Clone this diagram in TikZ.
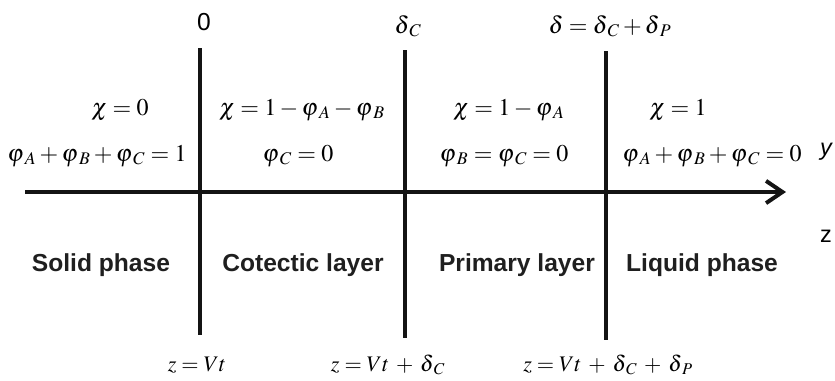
\documentclass[tikz,border=0pt]{standalone}
\usepackage{amsmath}
\usepackage{mathptmx}
\usepackage{fontspec}
\setsansfont{Liberation Sans}
\usepackage{tikz}
\usetikzlibrary{positioning,arrows.meta}
\newcommand{\sub}[2]{#1_{\mkern3mu #2}}
\newcommand{\wplus}{\mskip 3mu+\mskip 3mu}

\begin{document}
\begin{tikzpicture}[x=0.03cm, y=-0.03cm, font=\fontsize{20.5}{24}\selectfont,
  wall/.style={line width=3.4pt, black!92},
  eqn/.style={inner sep=0pt, anchor=base},
  phase/.style={inner sep=0pt, anchor=base, font=\fontsize{21}{24}\selectfont\sffamily\bfseries, text=black!88},
  front/.style={inner sep=0pt, anchor=base, font=\fontsize{19}{22}\selectfont}]
  \useasboundingbox (0,0) rectangle (835,380);
  \def\colS{200} \def\colC{405} \def\colP{606}
  % interfaces
  \foreach \x/\t/\b/\n in {\colS/48/335/s, \colC/50/338/c, \colP/51/340/p} {
    \coordinate (\n top) at (\x,\t);
    \coordinate (\n bot) at (\x,\b);
    \draw[wall] (\n top) -- (\n bot);
  }
  % axis
  \coordinate (ax0) at (25,192);
  \coordinate (ax1) at (786,192);
  \draw[wall, -{Straight Barb[length=14pt, width=19pt, line width=3.4pt]}] (ax0) -- (ax1);
  \node[eqn, font=\fontsize{20}{24}\selectfont\sffamily\itshape] (lbly) at (826,155) {y};
  \node[eqn, font=\fontsize{20}{24}\selectfont\sffamily] (lblz) at (826,242) {z};
  % positions
  \node[eqn, font=\fontsize{21}{24}\selectfont\sffamily] (pos0) at (204,30) {0};
  \node[eqn] (posc) at (408,33) {$\sub{\delta}{C}$};
  \node[eqn] (posd) at (610,33) {$\delta=\sub{\delta}{C}+\sub{\delta}{P}$};
  % conditions
  \node[eqn] (chis) at (120,115) {$\chi=0$};
  \node[eqn] (phis) at (97,161) {$\sub{\varphi}{A}+\sub{\varphi}{B}+\sub{\varphi}{C}=1$};
  \node[eqn] (chic) at (302,115) {$\chi=1-\sub{\varphi}{A}-\sub{\varphi}{B}$};
  \node[eqn] (phic) at (298,161) {$\sub{\varphi}{C}=0$};
  \node[eqn] (chip) at (509,115) {$\chi=1-\sub{\varphi}{A}$};
  \node[eqn] (phip) at (504,161) {$\sub{\varphi}{B}=\sub{\varphi}{C}=0$};
  \node[eqn] (chil) at (678,115) {$\chi=1$};
  \node[eqn] (phil) at (712,161) {$\sub{\varphi}{A}+\sub{\varphi}{B}+\sub{\varphi}{C}=0$};
  % regions
  \foreach \x/\n/\t in {101/solid/Solid phase, 303/cotec/Cotectic layer, 517/prim/Primary layer, 702/liq/Liquid phase}
    \node[phase] (\n) at (\x,271) {\t};
  % fronts
  \node[front] (zs) at (197,371) {$z=Vt$};
  \node[front] (zc) at (388,371) {$z=Vt\wplus\sub{\delta}{C}$};
  \node[front] (zp) at (608,371) {$z=Vt\wplus\sub{\delta}{C}\wplus\sub{\delta}{P}$};
\end{tikzpicture}
\end{document}
